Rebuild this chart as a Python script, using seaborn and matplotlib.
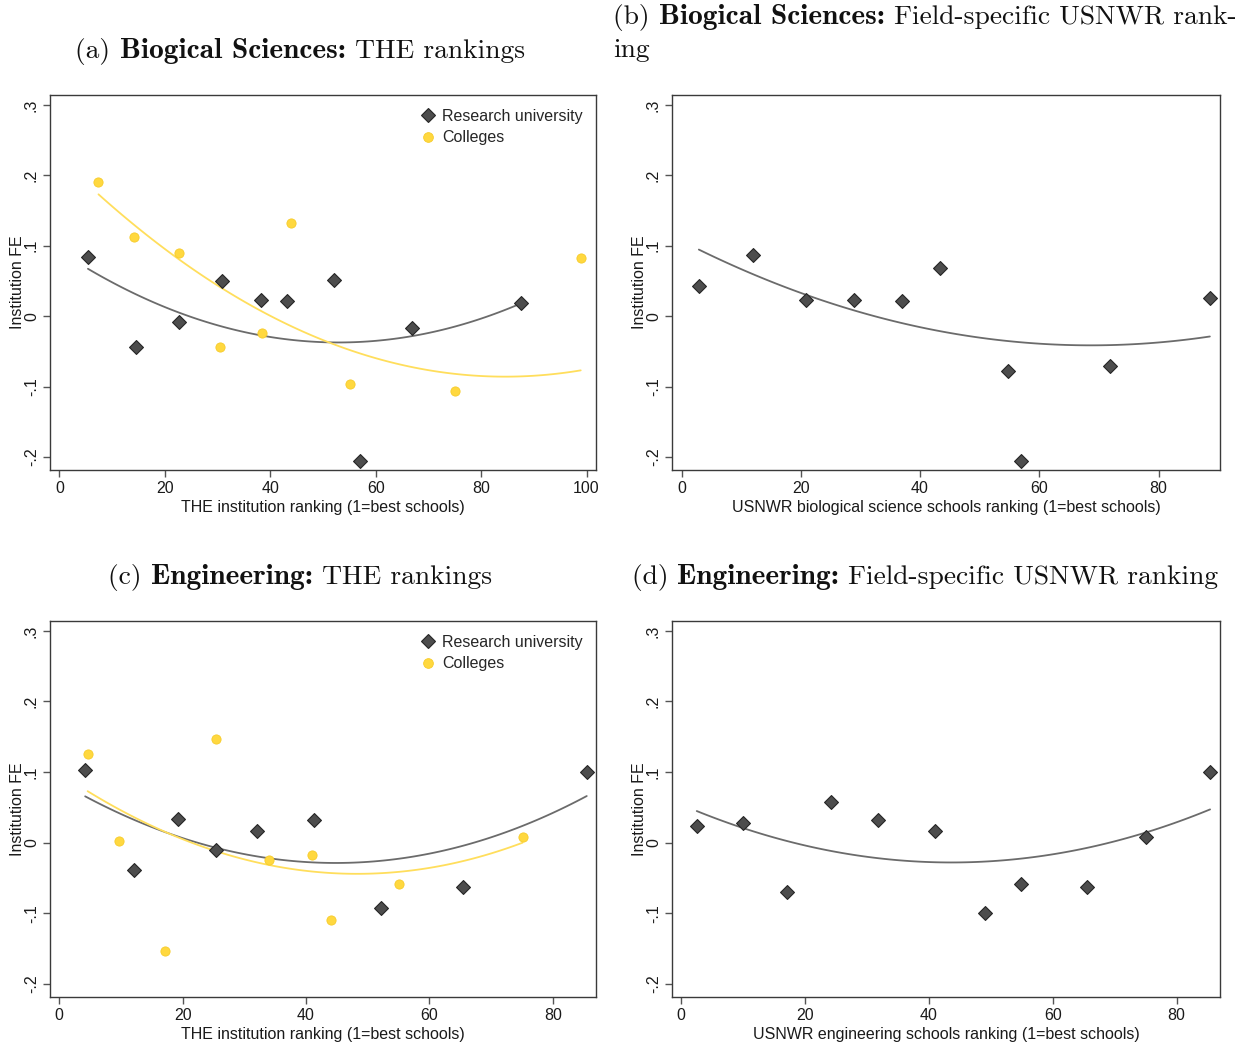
import numpy as np
import pandas as pd
import matplotlib
matplotlib.use("Agg")
import matplotlib.pyplot as plt
import seaborn as sns
from matplotlib.ticker import FixedLocator, FixedFormatter
from matplotlib.lines import Line2D

# ---- data -------------------------------------------------------------
# (a) Biological sciences vs THE institution ranking
bio_the_univ_rank = [5.4, 14.5, 22.7, 30.8, 38.2, 43.1, 52.1, 57.0, 66.8, 87.5]
bio_the_univ_fe = [0.084, -0.044, -0.008, 0.050, 0.023, 0.022, 0.052, -0.206, -0.017, 0.019]
bio_the_coll_rank = [7.4, 14.1, 22.7, 30.5, 38.5, 43.9, 55.1, 75.0, 98.9]
bio_the_coll_fe = [0.191, 0.112, 0.090, -0.044, -0.024, 0.132, -0.097, -0.107, 0.083]
# quadratic-fit curves (points on each fitted curve)
bio_the_univ_fit_x = [5.4, 30.8, 53.0, 87.5]
bio_the_univ_fit_y = [0.067, -0.014, -0.038, 0.018]
bio_the_coll_fit_x = [7.4, 30.5, 51.4, 84.8, 98.9]
bio_the_coll_fit_y = [0.173, 0.041, -0.038, -0.086, -0.077]

# (b) Biological sciences vs field-specific USNWR ranking
bio_usn_rank = [2.9, 11.9, 20.8, 28.9, 36.9, 43.3, 54.7, 57.0, 71.8, 88.6]
bio_usn_fe = [0.043, 0.087, 0.023, 0.023, 0.021, 0.069, -0.078, -0.206, -0.071, 0.026]
bio_usn_fit_x = [2.9, 20.8, 40.0, 68.0, 88.6]
bio_usn_fit_y = [0.094, 0.032, -0.017, -0.041, -0.029]

# (c) Engineering vs THE institution ranking
eng_the_univ_rank = [4.2, 12.1, 19.3, 25.4, 32.0, 41.3, 52.1, 65.5, 85.5]
eng_the_univ_fe = [0.103, -0.038, 0.034, -0.011, 0.016, 0.032, -0.092, -0.063, 0.100]
eng_the_coll_rank = [4.6, 9.7, 17.1, 25.4, 34.0, 41.0, 44.1, 55.0, 75.1]
eng_the_coll_fe = [0.126, 0.003, -0.154, 0.147, -0.025, -0.018, -0.110, -0.058, 0.008]
eng_the_univ_fit_x = [4.2, 25.4, 45.0, 85.5]
eng_the_univ_fit_y = [0.066, -0.008, -0.028, 0.066]
eng_the_coll_fit_x = [4.6, 25.4, 48.0, 75.1]
eng_the_coll_fit_y = [0.073, -0.012, -0.044, 0.000]

# (d) Engineering vs field-specific USNWR ranking
eng_usn_rank = [2.5, 9.9, 17.0, 24.2, 31.8, 40.9, 49.0, 54.9, 65.5, 75.0, 85.4]
eng_usn_fe = [0.023, 0.028, -0.070, 0.057, 0.032, 0.017, -0.100, -0.058, -0.063, 0.008, 0.100]
eng_usn_fit_x = [2.5, 24.2, 43.7, 65.5, 85.4]
eng_usn_fit_y = [0.045, -0.012, -0.028, -0.007, 0.047]

y_ticks = [-0.2, -0.1, 0.0, 0.1, 0.2, 0.3]
y_tick_labels = ["-.2", "-.1", "0", ".1", ".2", ".3"]
x_ticks_the_bio = [0, 20, 40, 60, 80, 100]
x_ticks_other = [0, 20, 40, 60, 80]

univ_label = "Research university"
coll_label = "Colleges"

# ---- style ------------------------------------------------------------
sns.set_theme(style="white")
plt.rcParams["font.family"] = ["Liberation Sans", "DejaVu Sans"]

UNIV_FACE = "#4d4d4d"
UNIV_EDGE = "#262626"
UNIV_LINE = "#6b6b6b"
COLL_FACE = "#FFD83F"
COLL_EDGE = "#F7CC2A"
COLL_LINE = "#FFDE5C"
SPINE = "#3a3a3a"

W, H = 1247, 1043
fig = plt.figure(figsize=(W / 100, H / 100), dpi=100)


def px_axes(left, top, right, bottom):
    return fig.add_axes([left / W, 1 - bottom / H, (right - left) / W, (bottom - top) / H])


def draw_group(ax, rank, fe, fit_x, fit_y, kind):
    pts = pd.DataFrame({"rank": rank, "fe": fe})
    fit = pd.DataFrame({"rank": fit_x, "fe": fit_y})
    line_color = UNIV_LINE if kind == "univ" else COLL_LINE
    sns.regplot(data=fit, x="rank", y="fe", order=2, ci=None, scatter=False, ax=ax,
                line_kws=dict(color=line_color, lw=1.3, zorder=2))
    if kind == "univ":
        sns.scatterplot(data=pts, x="rank", y="fe", marker="D", s=50, color=UNIV_FACE,
                        edgecolor=UNIV_EDGE, linewidth=0.8, ax=ax, zorder=3)
    else:
        sns.scatterplot(data=pts, x="rank", y="fe", marker="o", s=44, color=COLL_FACE,
                        edgecolor=COLL_EDGE, linewidth=0.6, ax=ax, zorder=3)


def style_axes(ax, xlim, xticks, xlabel, legend):
    ax.set_xlim(*xlim)
    ax.set_ylim(-0.2185, 0.3140)
    ax.xaxis.set_major_locator(FixedLocator(xticks))
    ax.xaxis.set_major_formatter(FixedFormatter([str(t) for t in xticks]))
    ax.yaxis.set_major_locator(FixedLocator(y_ticks))
    ax.yaxis.set_major_formatter(FixedFormatter(y_tick_labels))
    ax.tick_params(axis="both", which="major", direction="out", length=5, width=1,
                   color="#555555", labelsize=11.5, labelcolor="#1a1a1a", pad=3,
                   bottom=True, left=True, top=False, right=False)
    ax.tick_params(axis="y", labelrotation=90)
    for lab in ax.get_yticklabels():
        lab.set_va("center")
    for sp in ax.spines.values():
        sp.set_color(SPINE)
        sp.set_linewidth(1.0)
    ax.set_xlabel(xlabel, fontsize=11.5, color="#1a1a1a", labelpad=2.5)
    ax.set_ylabel("Institution FE", fontsize=11.5, color="#1a1a1a", labelpad=-1)
    ax.grid(False)
    if legend:
        handles = [
            Line2D([], [], ls="", marker="D", ms=7, mfc=UNIV_FACE, mec=UNIV_EDGE, mew=0.8),
            Line2D([], [], ls="", marker="o", ms=7, mfc=COLL_FACE, mec=COLL_EDGE, mew=0.6),
        ]
        ax.legend(handles, [univ_label, coll_label], loc="upper right", frameon=False,
                  fontsize=11.5, handletextpad=0.25, labelspacing=0.42,
                  borderaxespad=0.45, handlelength=1.2)
    else:
        leg = ax.get_legend()
        if leg is not None:
            leg.remove()


# ---- panels -----------------------------------------------------------
ax_a = px_axes(50, 95, 596, 470)
draw_group(ax_a, bio_the_univ_rank, bio_the_univ_fe, bio_the_univ_fit_x, bio_the_univ_fit_y, "univ")
draw_group(ax_a, bio_the_coll_rank, bio_the_coll_fe, bio_the_coll_fit_x, bio_the_coll_fit_y, "coll")
style_axes(ax_a, (-1.8, 101.8), x_ticks_the_bio, "THE institution ranking (1=best schools)", True)

ax_b = px_axes(672, 95, 1220, 470)
draw_group(ax_b, bio_usn_rank, bio_usn_fe, bio_usn_fit_x, bio_usn_fit_y, "univ")
style_axes(ax_b, (-1.6, 90.3), x_ticks_other,
           "USNWR biological science schools ranking (1=best schools)", False)

ax_c = px_axes(50, 621, 596, 997)
draw_group(ax_c, eng_the_univ_rank, eng_the_univ_fe, eng_the_univ_fit_x, eng_the_univ_fit_y, "univ")
draw_group(ax_c, eng_the_coll_rank, eng_the_coll_fe, eng_the_coll_fit_x, eng_the_coll_fit_y, "coll")
style_axes(ax_c, (-1.5, 87.0), x_ticks_other, "THE institution ranking (1=best schools)", True)

ax_d = px_axes(672, 621, 1220, 997)
draw_group(ax_d, eng_usn_rank, eng_usn_fe, eng_usn_fit_x, eng_usn_fit_y, "univ")
style_axes(ax_d, (-1.5, 87.0), x_ticks_other,
           "USNWR engineering schools ranking (1=best schools)", False)


# ---- captions (roman / bold serif pieces laid out on one baseline) ----
ROMAN_SIZE = 19.8
BOLD_SIZE = 21.2


def caption(x_px, y_px, pieces, ha="left"):
    renderer = fig.canvas.get_renderer()
    texts = []
    prev = None
    for txt, bold in pieces:
        fam = "cmb10" if bold else "cmr10"
        size = BOLD_SIZE if bold else ROMAN_SIZE
        if prev is None:
            x0 = x_px / W
        else:
            x0 = prev.get_window_extent(renderer).x1 / W
        t = fig.text(x0, 1 - y_px / H, txt, family=fam, fontsize=size,
                     ha="left", va="baseline", color="#111111")
        texts.append(t)
        prev = t
    if ha == "center":
        bb0 = texts[0].get_window_extent(renderer)
        bb1 = texts[-1].get_window_extent(renderer)
        shift = (bb1.x1 - bb0.x0) / 2
        for t in texts:
            x, y = t.get_position()
            t.set_position((x - shift / W, y))
    return texts


caption(300, 58, [("(a) ", False), ("Biogical Sciences:", True), (" THE rankings", False)],
        ha="center")
caption(613, 24, [("(b) ", False), ("Biogical Sciences:", True),
                  (" Field-specific USNWR rank-", False)])
caption(613, 57, [("ing", False)])
caption(300, 584, [("(c) ", False), ("Engineering:", True), (" THE rankings", False)],
        ha="center")
caption(925, 584, [("(d) ", False), ("Engineering:", True),
                   (" Field-specific USNWR ranking", False)], ha="center")

fig.savefig("out.png", dpi=100, facecolor="white")
